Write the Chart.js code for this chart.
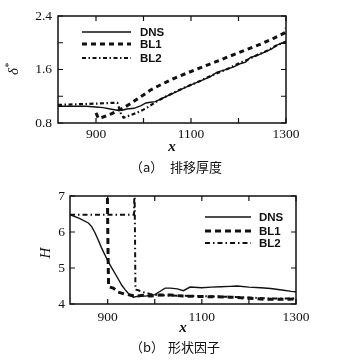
<!DOCTYPE html>
<html>
<head>
<meta charset="utf-8">
<script src="https://cdn.jsdelivr.net/npm/chart.js@4.4.0/dist/chart.umd.min.js"></script>
<style>
  body { margin: 0; background: #fff; width: 338px; height: 360px; position: relative; overflow: hidden; color: #111; }
  canvas { position: absolute; left: 0; }
  .lbl { position: absolute; white-space: nowrap; line-height: 1; transform: translate(-50%, -50%); font-family: "Liberation Serif", serif; }
  .cap { position: absolute; white-space: nowrap; line-height: 1; transform: translateY(-50%); font-family: "Noto Sans CJK SC", sans-serif; font-size: 13px; }
</style>
</head>
<body>
<canvas id="chartA" width="338" height="160" style="top:0"></canvas>
<canvas id="chartB" width="338" height="160" style="top:180px"></canvas>

<div class="lbl" style="left:172px;top:146px;font-size:15px;font-weight:bold;font-style:italic">x</div>
<div class="lbl" style="left:12px;top:69px;font-size:15px;font-style:italic;transform:translate(-50%,-50%) rotate(-90deg)">δ<span style="font-size:10px;vertical-align:6px">*</span></div>
<div class="cap" style="left:130px;top:166px">（a）</div>
<div class="cap" style="left:170px;top:166px">排移厚度</div>

<div class="lbl" style="left:183px;top:327px;font-size:15px;font-weight:bold;font-style:italic">x</div>
<div class="lbl" style="left:45px;top:253px;font-size:15px;font-style:italic;transform:translate(-50%,-50%) rotate(-90deg)">H</div>
<div class="cap" style="left:130px;top:346px">（b）</div>
<div class="cap" style="left:168px;top:346px">形状因子</div>

<script>
// ---- (a) displacement thickness ----
const dnsAx = [820, 850, 880, 900, 915, 930, 945, 955, 965, 980, 995, 1005, 1015, 1025, 1040, 1055, 1070, 1085, 1100, 1120, 1140, 1155, 1170, 1190, 1205, 1215, 1225, 1240, 1255, 1270, 1282, 1290, 1300];
const dnsAy = [1.05, 1.05, 1.05, 1.04, 1.03, 1.01, 0.99, 0.99, 1.01, 1.02, 1.06, 1.10, 1.11, 1.12, 1.17, 1.22, 1.27, 1.32, 1.37, 1.43, 1.49, 1.56, 1.59, 1.64, 1.69, 1.71, 1.78, 1.81, 1.86, 1.91, 1.97, 1.99, 1.99];
const bl1Ax = [900, 905, 915, 933, 950, 961, 975, 989, 1000, 1014, 1030, 1050, 1075, 1100, 1125, 1150, 1175, 1200, 1225, 1250, 1275, 1298, 1300];
const bl1Ay = [0.95, 0.87, 0.89, 0.94, 1.00, 1.04, 1.10, 1.17, 1.22, 1.29, 1.35, 1.42, 1.50, 1.57, 1.64, 1.71, 1.78, 1.85, 1.92, 1.99, 2.07, 2.15, 2.22];
const bl2Ax = [820, 860, 900, 930, 945, 952, 958, 970, 985, 1000, 1012, 1025, 1040, 1060, 1080, 1100, 1120, 1140, 1160, 1180, 1200, 1220, 1240, 1260, 1280, 1300];
const bl2Ay = [1.07, 1.08, 1.09, 1.10, 1.10, 0.95, 0.88, 0.91, 0.95, 1.00, 1.05, 1.11, 1.17, 1.24, 1.31, 1.37, 1.43, 1.50, 1.56, 1.62, 1.69, 1.75, 1.82, 1.88, 1.96, 2.02];
const xTicksA = [900, 1000, 1100, 1200, 1300];
const xLabelsA = ['900', '', '1100', '', '1300'];
const yTicksA = [0.8, 1.2, 1.6, 2.0, 2.4];
const yLabelsA = ['0.8', '', '1.6', '', '2.4'];

// ---- (b) shape factor ----
const dnsBx = [820, 840, 859, 866, 873, 880, 887, 894, 901, 908, 916, 923, 930, 937, 944, 950, 955, 962, 970, 980, 990, 1000, 1010, 1022, 1033, 1048, 1061, 1075, 1100, 1120, 1140, 1160, 1175, 1200, 1225, 1246, 1270, 1290, 1300];
const dnsBy = [6.48, 6.38, 6.25, 6.15, 5.98, 5.78, 5.56, 5.37, 5.18, 5.02, 4.84, 4.68, 4.52, 4.40, 4.29, 4.22, 4.19, 4.21, 4.23, 4.22, 4.24, 4.26, 4.34, 4.44, 4.44, 4.42, 4.37, 4.47, 4.45, 4.47, 4.48, 4.49, 4.50, 4.47, 4.45, 4.43, 4.39, 4.35, 4.34];
const bl1Bx = [899, 901, 902, 912, 922, 935, 947, 960, 975, 990, 1010, 1033, 1060, 1090, 1129, 1160, 1200, 1235, 1270, 1300];
const bl1By = [7.5, 5.2, 4.48, 4.44, 4.33, 4.28, 4.25, 4.22, 4.24, 4.22, 4.25, 4.25, 4.22, 4.21, 4.20, 4.19, 4.16, 4.13, 4.13, 4.14];
const bl2Bx = [820, 900, 956, 957, 959, 965, 975, 990, 1000, 1020, 1050, 1100, 1150, 1200, 1250, 1300];
const bl2By = [6.48, 6.48, 6.48, 7.5, 4.40, 4.38, 4.33, 4.28, 4.25, 4.24, 4.23, 4.22, 4.20, 4.18, 4.15, 4.15];
const xTicksB = [900, 1000, 1100, 1200, 1300];
const xLabelsB = ['900', '', '1100', '', '1300'];
const yTicksB = [4, 5, 6, 7];
const yLabelsB = ['4', '5', '6', '7'];

const seriesNames = ['DNS', 'BL1', 'BL2'];
const ink = '#111';

function pts(xs, ys) {
  return xs.map((x, i) => ({ x: x, y: ys[i] }));
}

function series(label, data, width, dash) {
  return {
    label: label,
    data: data,
    showLine: true,
    borderColor: ink,
    borderWidth: width,
    borderDash: dash,
    pointRadius: 0,
    fill: false,
    tension: 0,
  };
}

// frame, inward ticks on all four sides, legend inside the plot
const framePlugin = {
  id: 'frame',
  afterDatasetsDraw(chart, args, opts) {
    const { ctx, chartArea: a, scales: { x, y } } = chart;
    ctx.save();
    ctx.strokeStyle = ink;
    ctx.lineWidth = 1.2;
    ctx.beginPath();
    x.ticks.forEach(t => {
      const px = x.getPixelForValue(t.value);
      ctx.moveTo(px, a.bottom); ctx.lineTo(px, a.bottom - 5);
      ctx.moveTo(px, a.top); ctx.lineTo(px, a.top + 5);
    });
    y.ticks.forEach(t => {
      const py = y.getPixelForValue(t.value);
      ctx.moveTo(a.left, py); ctx.lineTo(a.left + 5, py);
      ctx.moveTo(a.right, py); ctx.lineTo(a.right - 5, py);
    });
    ctx.stroke();
    ctx.lineWidth = 1.5;
    ctx.strokeRect(a.left, a.top, a.right - a.left, a.bottom - a.top);

    const lg = opts.legend;
    ctx.font = 'bold 11.5px "Liberation Sans", Arial, sans-serif';
    ctx.textBaseline = 'middle';
    ctx.fillStyle = ink;
    chart.data.datasets.forEach((ds, i) => {
      const yy = a.top + lg.rows[i];
      ctx.lineWidth = ds.borderWidth;
      ctx.setLineDash(ds.borderDash || []);
      ctx.beginPath();
      ctx.moveTo(a.left + lg.x0, yy);
      ctx.lineTo(a.left + lg.x1, yy);
      ctx.stroke();
      ctx.setLineDash([]);
      ctx.fillText(ds.label, a.left + lg.tx, yy + 0.5);
    });
    ctx.restore();
  }
};

function makeChart(id, datasets, cfg) {
  return new Chart(document.getElementById(id), {
    type: 'scatter',
    data: { datasets: datasets },
    options: {
      responsive: false,
      animation: false,
      devicePixelRatio: 1,
      layout: { padding: { top: cfg.padTop, right: cfg.padRight, left: 0, bottom: 0 } },
      plugins: {
        legend: { display: false },
        tooltip: { enabled: false },
        frame: { legend: cfg.legend },
      },
      scales: {
        x: {
          type: 'linear',
          min: 820,
          max: 1300,
          grid: { display: false, drawTicks: false },
          border: { display: false },
          afterBuildTicks: s => { s.ticks = cfg.xTicks.map(v => ({ value: v })); },
          afterFit: s => { s.height = cfg.xHeight; },
          ticks: {
            autoSkip: false,
            maxRotation: 0,
            padding: cfg.xPad,
            color: ink,
            font: { family: '"Liberation Serif", serif', size: 13.5 },
            callback: (v, i) => cfg.xLabels[i],
          },
        },
        y: {
          type: 'linear',
          min: cfg.yTicks[0],
          max: cfg.yTicks[cfg.yTicks.length - 1],
          grid: { display: false, drawTicks: false },
          border: { display: false },
          afterBuildTicks: s => { s.ticks = cfg.yTicks.map(v => ({ value: v })); },
          afterFit: s => { s.width = cfg.yWidth; },
          ticks: {
            autoSkip: false,
            padding: cfg.yPad,
            color: ink,
            font: { family: '"Liberation Serif", serif', size: 13.5 },
            callback: (v, i) => cfg.yLabels[i],
          },
        },
      },
    },
    plugins: [framePlugin],
  });
}

makeChart('chartA', [
  series(seriesNames[0], pts(dnsAx, dnsAy), 1.4, []),
  series(seriesNames[1], pts(bl1Ax, bl1Ay), 3, [5, 4]),
  series(seriesNames[2], pts(bl2Ax, bl2Ay), 2.2, [4, 2.5, 1.5, 2.5]),
], {
  padTop: 16, padRight: 52, xHeight: 37, yWidth: 58, xPad: 3, yPad: 6,
  xTicks: xTicksA, xLabels: xLabelsA, yTicks: yTicksA, yLabels: yLabelsA,
  legend: { x0: 24, x1: 73, tx: 82, rows: [16, 28, 42] },
});

makeChart('chartB', [
  series(seriesNames[0], pts(dnsBx, dnsBy), 1.4, []),
  series(seriesNames[1], pts(bl1Bx, bl1By), 3, [6, 4]),
  series(seriesNames[2], pts(bl2Bx, bl2By), 2, [5, 3, 1.5, 3]),
], {
  padTop: 16, padRight: 42, xHeight: 36, yWidth: 70, xPad: 5, yPad: 5,
  xTicks: xTicksB, xLabels: xLabelsB, yTicks: yTicksB, yLabels: yLabelsB,
  legend: { x0: 135, x1: 181, tx: 189, rows: [21, 35, 47] },
});
</script>
</body>
</html>
